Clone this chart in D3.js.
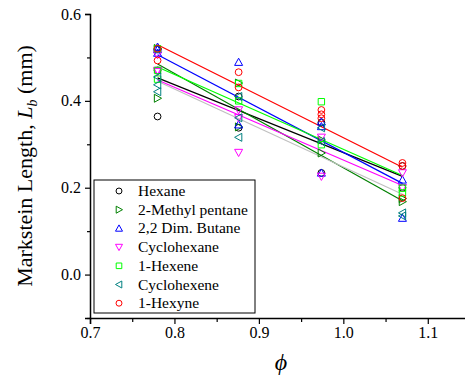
<!DOCTYPE html>
<html>
<head>
<meta charset="utf-8">
<script src="https://cdn.jsdelivr.net/npm/d3@7"></script>
<style>
  body { margin: 0; background: #fff; }
  svg { display: block; font-family: "Liberation Serif", "DejaVu Serif", serif; }
  svg .tick text { font-family: "Liberation Serif", "DejaVu Serif", serif; }
</style>
</head>
<body>
<div id="chart"></div>
<script>
// equivalence ratios where the flames were measured
const phiValues = [0.78, 0.876, 0.974, 1.07];

const seriesNames = ["Hexane", "2-Methyl pentane", "2,2 Dim. Butane", "Cyclohexane",
                     "1-Hexene", "Cyclohexene", "1-Hexyne"];
const seriesColors = ["#000000", "#008000", "#0000ff", "#ff00ff", "#00ff00", "#008080", "#ff0000"];
const lineColors   = ["#000000", "#008000", "#0000ff", "#ff00ff", "#00ff00", "#c0c0c0", "#ff0000"];
const seriesShapes = ["circle", "right", "up", "down", "square", "left", "circle"];

// measured Lb (mm) per phi, one inner list per phi value
const hexane     = [[0.364, 0.47, 0.52], [0.338, 0.41], [0.234, 0.35], [0.25, 0.20]];
const methylPent = [[0.406, 0.52, 0.52], [0.441, 0.34], [0.28, 0.31], [0.168, 0.175]];
const dimButane  = [[0.524, 0.518, 0.51], [0.489, 0.345], [0.352, 0.341, 0.234], [0.218, 0.13]];
const cycloHexa  = [[0.506, 0.467, 0.47], [0.379, 0.361, 0.281], [0.316, 0.226], [0.234, 0.2]];
const hexene     = [[0.45, 0.47, 0.52], [0.44, 0.40], [0.398, 0.299], [0.199, 0.188]];
const cycloHexe  = [[0.437, 0.421, 0.455], [0.41, 0.361, 0.316], [0.338, 0.306], [0.142, 0.135]];
const hexyne     = [[0.493, 0.52], [0.466, 0.431], [0.379, 0.369, 0.36], [0.257, 0.25, 0.176]];
const seriesValues = [hexane, methylPent, dimButane, cycloHexa, hexene, cycloHexe, hexyne];

// linear fits, read at the first and last phi
const fitStart = [0.453, 0.485, 0.506, 0.448, 0.478, 0.445, 0.529];
const fitEnd   = [0.226, 0.170, 0.210, 0.205, 0.228, 0.185, 0.247];

const yTicks = [0.0, 0.2, 0.4, 0.6];
const xTicks = [0.7, 0.8, 0.9, 1.0, 1.1];

const width = 465, height = 377;
const x = d3.scaleLinear().domain([0.7, 1.15]).range([90, 470]);
const y = d3.scaleLinear().domain([-0.1, 0.6]).range([318, 14]);

const svg = d3.select("#chart").append("svg")
    .attr("width", width)
    .attr("height", height);

// marker path centred on 0,0
function markerPath(shape, s) {
    const h = s / 2;
    switch (shape) {
        case "up":    return `M0,${-h}L${h},${h * 0.8}L${-h},${h * 0.8}Z`;
        case "down":  return `M0,${h}L${h},${-h * 0.8}L${-h},${-h * 0.8}Z`;
        case "right": return `M${h},0L${-h * 0.8},${h}L${-h * 0.8},${-h}Z`;
        case "left":  return `M${-h},0L${h * 0.8},${h}L${h * 0.8},${-h}Z`;
        case "square": return `M${-h * 0.8},${-h * 0.8}h${h * 1.6}v${h * 1.6}h${-h * 1.6}Z`;
        default: {
            const r = h * 0.85;
            return `M${r},0A${r},${r} 0 1,1 ${-r},0A${r},${r} 0 1,1 ${r},0Z`;
        }
    }
}

// fit lines
seriesNames.forEach((name, i) => {
    svg.append("line")
        .attr("x1", x(phiValues[0]))
        .attr("y1", y(fitStart[i]))
        .attr("x2", x(phiValues[phiValues.length - 1]))
        .attr("y2", y(fitEnd[i]))
        .attr("stroke", lineColors[i])
        .attr("stroke-width", 1.2);
});

// points
seriesNames.forEach((name, i) => {
    const pts = [];
    seriesValues[i].forEach((vals, j) => vals.forEach(v => pts.push([phiValues[j], v])));
    svg.append("g").selectAll("path")
        .data(pts)
        .enter()
        .append("path")
        .attr("transform", d => `translate(${x(d[0])},${y(d[1])})`)
        .attr("d", markerPath(seriesShapes[i], 8))
        .attr("fill", "none")
        .attr("stroke", seriesColors[i])
        .attr("stroke-width", 1);
});

// axes
svg.append("g")
    .attr("transform", `translate(${x(0.7)},0)`)
    .call(d3.axisLeft(y).tickValues(yTicks).tickFormat(d3.format(".1f")).tickSize(5).tickPadding(4));
svg.append("g")
    .attr("transform", `translate(${x(0.7)},0)`)
    .call(d3.axisLeft(y).tickValues([-0.1, 0.1, 0.3, 0.5]).tickFormat("").tickSize(3))
    .select(".domain").remove();

svg.append("g")
    .attr("transform", `translate(0,${y(-0.1)})`)
    .call(d3.axisBottom(x).tickValues(xTicks).tickFormat(d3.format(".1f")).tickSize(6).tickPadding(3));
svg.append("g")
    .attr("transform", `translate(0,${y(-0.1)})`)
    .call(d3.axisBottom(x).tickValues([0.75, 0.85, 0.95, 1.05]).tickFormat("").tickSize(4))
    .select(".domain").remove();

svg.selectAll(".domain").attr("stroke-width", 1.5);
svg.selectAll(".tick line").attr("stroke-width", 1.2);
svg.selectAll(".tick text")
    .style("font-family", "'Liberation Serif', 'DejaVu Serif', serif")
    .style("font-size", "16px")
    .attr("fill", "#000");

// axis titles
const yLabel = svg.append("text")
    .attr("transform", `translate(32,166) rotate(-90)`)
    .attr("text-anchor", "middle")
    .attr("font-size", 22)
    .attr("fill", "#000");
yLabel.append("tspan").text("Markstein Length, ");
yLabel.append("tspan").attr("font-style", "italic").text("L");
yLabel.append("tspan").attr("font-style", "italic").attr("font-size", 14).attr("dy", 5).text("b");
yLabel.append("tspan").attr("dy", -5).text(" (mm)");

svg.append("text")
    .attr("x", 281)
    .attr("y", 370)
    .attr("text-anchor", "middle")
    .attr("font-size", 24)
    .attr("font-style", "italic")
    .text("\u03D5");

// legend
const legend = svg.append("g");
legend.append("rect")
    .attr("x", 94).attr("y", 180)
    .attr("width", 161).attr("height", 133)
    .attr("fill", "#fff")
    .attr("stroke", "#000")
    .attr("stroke-width", 1);

seriesNames.forEach((name, i) => {
    const cy = 191 + i * 18.7;
    legend.append("path")
        .attr("transform", `translate(119,${cy})`)
        .attr("d", markerPath(seriesShapes[i], 7))
        .attr("fill", "none")
        .attr("stroke", seriesColors[i])
        .attr("stroke-width", 1);
    legend.append("text")
        .attr("x", 138)
        .attr("y", cy + 5)
        .attr("font-size", 15.5)
        .attr("fill", "#000")
        .text(name);
});
</script>
</body>
</html>
